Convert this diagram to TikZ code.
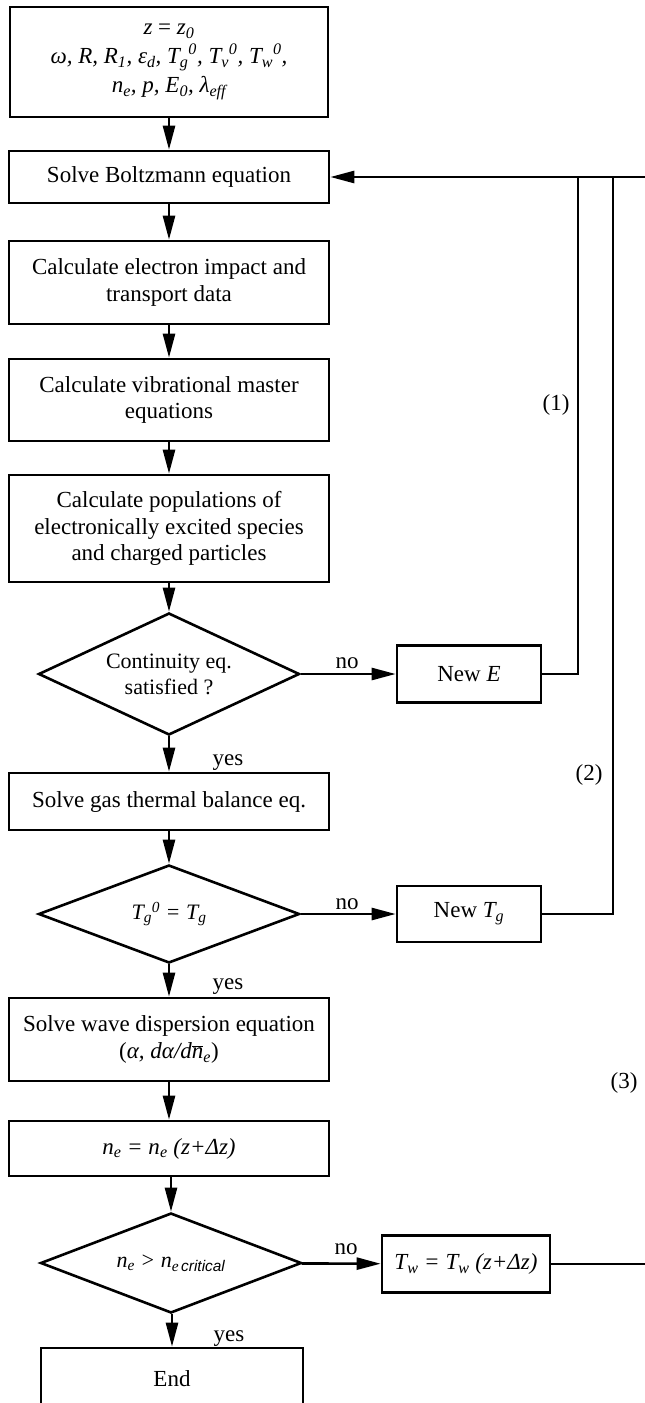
\documentclass[tikz,border=0pt]{standalone}
\usepackage{fontspec}
\setmainfont{Liberation Serif}
\newfontfamily\arialfont{Liberation Sans}
\usetikzlibrary{shapes.geometric,arrows.meta}
\begin{document}
\begin{tikzpicture}[x=1pt,y=-1pt,line width=2.6pt,
  box/.style={draw,rectangle,minimum width=320pt,inner sep=0pt,align=center,font=\fontsize{23}{26.5}\selectfont},
  dec/.style={draw,diamond,minimum width=261pt,inner sep=0pt,align=center,font=\fontsize{22}{26}\selectfont},
  lbl/.style={inner sep=0pt,font=\fontsize{23}{26}\selectfont},
  arr/.style={-{Triangle[length=24pt,width=12pt]}}]
\useasboundingbox (0,0) rectangle (645,1403);
\clip (0,0) rectangle (645,1403);
% main column
\node[box,minimum width=318pt,minimum height=110pt,font=\fontsize{23}{29}\selectfont] (init) at (169,62)
  {\textit{z} = \textit{z}\textsubscript{\textit{0}}\\
   \textit{ω, R, R\textsubscript{1}, ε\textsubscript{d}, T\textsubscript{g}\textsuperscript{0}, T\textsubscript{v}\textsuperscript{0}, T\textsubscript{w}\textsuperscript{0},}\\
   \textit{n\textsubscript{e}, p, E\textsubscript{0}, λ\textsubscript{eff}}};
\node[box,minimum height=52pt] (boltz) at (169,177) {Solve Boltzmann equation};
\node[box,minimum height=83pt] (elec) at (169,282.5) {Calculate electron impact and\\transport data};
\node[box,minimum height=82pt] (vib) at (169,400) {Calculate vibrational master\\equations};
\node[box,minimum height=107pt] (pop) at (169,528.5) {Calculate populations of\\electronically excited species\\and charged particles};
\node[dec,aspect=2.14,minimum height=122pt] (d1) at (169,674) {Continuity eq.\\satisfied ?};
\node[box,minimum height=57pt] (gas) at (169,801.5) {Solve gas thermal balance eq.};
\node[dec,aspect=2.66,minimum height=98pt] (d2) at (169,914) {\textit{T\textsubscript{g}\textsuperscript{0} = T\textsubscript{g}}};
\node[box,minimum height=83pt] (wave) at (169,1039.5) {Solve wave dispersion equation\\(\textit{α, dα/d}$\overline{\hbox{\textit{n}}}$\textit{\textsubscript{e}})};
\node[box,minimum height=55pt] (ne) at (169,1148.5) {\textit{n\textsubscript{e} = n\textsubscript{e} (z+Δz)}};
\node[dec,aspect=2.61,minimum height=100pt] (d3) at (171,1263) {\textit{n\textsubscript{e} > n\textsubscript{e\,{\arialfont\itshape critical}}}};
\node[box,minimum width=262pt,minimum height=62pt] (end) at (172,1379) {End};
% side boxes
\node[box,minimum width=144pt,minimum height=57pt] (newE) at (469,674) {New \textit{E}};
\node[box,minimum width=144pt,minimum height=56pt] (newTg) at (469,914) {New \textit{T\textsubscript{g}}};
\node[box,minimum width=168pt,minimum height=57pt] (tw) at (466,1264) {\textit{T\textsubscript{w} = T\textsubscript{w} (z+Δz)}};
% junctions of feedback loops
\coordinate (j1) at (578,177);
\coordinate (j2) at (613,177);
\coordinate (j3) at (650,177);
% main flow
\draw[arr] (init) -- (boltz);
\draw[arr] (boltz) -- (elec);
\draw[arr] (elec) -- (vib);
\draw[arr] (vib) -- (pop);
\draw[arr] (pop) -- (d1);
\draw[arr] (d1) -- (gas);
\draw[arr] (gas) -- (d2);
\draw[arr] (d2) -- (wave);
\draw[arr] (wave) -- (ne);
\draw[arr] (ne.south -| d3.north) -- (d3.north);
\draw[arr] (d3.south -| end.north) -- (end.north);
% branches
\draw[arr] (d1) -- (newE);
\draw[arr] (d2) -- (newTg);
\draw[arr] (d3) -- (tw);
% feedback
\draw[arr] (tw.east) -| (j3) -- (boltz.east);
\draw (newE.east) -| (j1);
\draw (newTg.east) -| (j2);
% labels
\node[lbl] (no1) at (347,663) {no};
\node[lbl] (no2) at (347,904) {no};
\node[lbl] (no3) at (346,1249) {no};
\node[lbl] (yes1) at (228,763) {yes};
\node[lbl] (yes2) at (228,987) {yes};
\node[lbl] (yes3) at (229,1339) {yes};
\node[lbl] (l1) at (556,405) {(1)};
\node[lbl] (l2) at (589,775) {(2)};
\node[lbl] (l3) at (624,1083) {(3)};
\end{tikzpicture}
\end{document}
